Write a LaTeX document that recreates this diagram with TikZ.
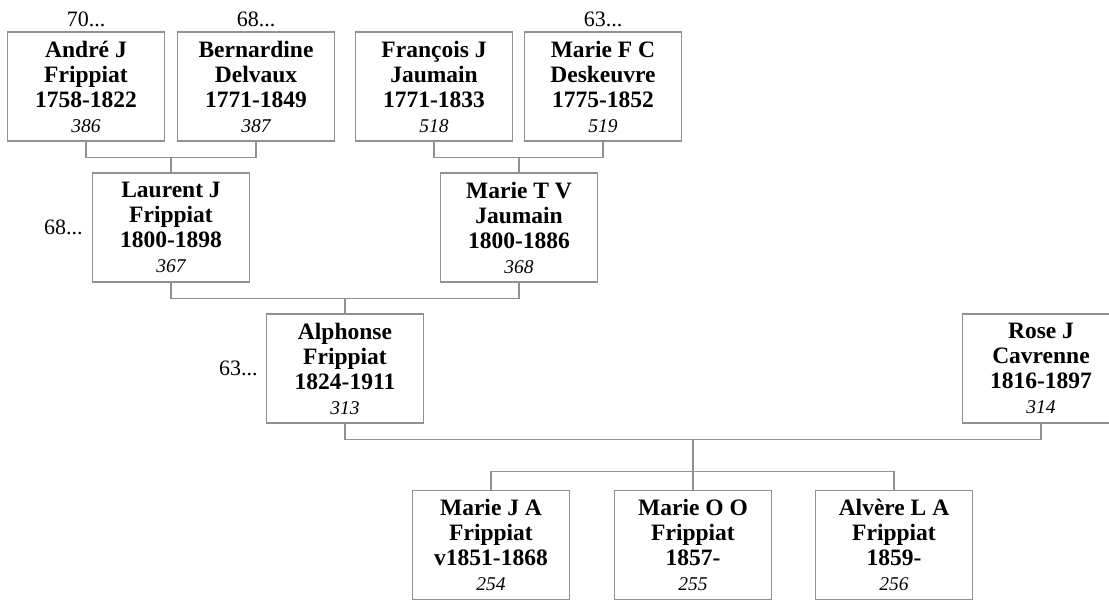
\documentclass[tikz,border=0pt]{standalone}
\usepackage{fontspec}
\setmainfont{Liberation Serif}
\usetikzlibrary{positioning,calc}
\definecolor{linegray}{RGB}{145,145,145}
\newcommand{\pers}[4]{\textbf{#1}\\\textbf{#2}\\\textbf{#3}\\{\fontsize{19.5}{25}\selectfont\itshape #4}}

\begin{document}
\begin{tikzpicture}[
  x=1pt,y=-1pt,
  person/.style={draw=linegray,line width=1.4pt,rectangle,align=center,inner sep=0pt,
    minimum width=157pt,minimum height=109pt,font=\fontsize{23.5}{25}\selectfont},
  note/.style={inner sep=0pt,font=\fontsize{22}{24}\selectfont},
  link/.style={draw=linegray,line width=1.4pt}
]
  \useasboundingbox (0,0) rectangle (1109,601);

  % great-grandparents
  \node[person] (andre) at (86,86.5) {\pers{André J}{Frippiat}{1758-1822}{386}};
  \node[person] (bernardine) at (256,86.5) {\pers{Bernardine}{Delvaux}{1771-1849}{387}};
  \node[person] (francois) at (434,86.5) {\pers{François J}{Jaumain}{1771-1833}{518}};
  \node[person] (mariefc) at (603,86.5) {\pers{Marie F C}{Deskeuvre}{1775-1852}{519}};

  \node[note,anchor=base] (n70) at ($(andre.north)+(0,-5)$) {70...};
  \node[note,anchor=base] (n68a) at ($(bernardine.north)+(0,-5)$) {68...};
  \node[note,anchor=base] (n63a) at ($(mariefc.north)+(0,-5)$) {63...};

  % grandparents
  \node[person] (laurent) at (171,227.5) {\pers{Laurent J}{Frippiat}{1800-1898}{367}};
  \node[person] (marietv) at (519,227.5) {\pers{Marie T V}{Jaumain}{1800-1886}{368}};
  \node[note,left=9pt of laurent] (n68b) {68...};

  % parents
  \node[person] (alphonse) at (345,368.5) {\pers{Alphonse}{Frippiat}{1824-1911}{313}};
  \node[person] (rose) at (1041,368.5) {\pers{Rose J}{Cavrenne}{1816-1897}{314}};
  \node[note,left=8pt of alphonse] (n63b) {63...};

  % children
  \node[person] (mariej) at (491,545) {\pers{Marie J A}{Frippiat}{v1851-1868}{254}};
  \node[person] (marieo) at (693,545) {\pers{Marie O O}{Frippiat}{1857-}{255}};
  \node[person] (alvere) at (894,545) {\pers{Alvère L A}{Frippiat}{1859-}{256}};

  % couple links
  \coordinate (c1) at ($(andre.south)!0.5!(bernardine.south)+(0,16)$);
  \draw[link] (andre.south) |- (c1) -| (bernardine.south);
  \draw[link] (c1) -- (laurent.north);

  \coordinate (c2) at ($(francois.south)!0.5!(mariefc.south)+(0,16)$);
  \draw[link] (francois.south) |- (c2) -| (mariefc.south);
  \draw[link] (c2) -- (c2 -| marietv.north) -- (marietv.north);

  \coordinate (c3) at ($(laurent.south)!0.5!(marietv.south)+(0,16)$);
  \draw[link] (laurent.south) |- (c3) -| (marietv.south);
  \draw[link] (c3) -- (alphonse.north);

  \coordinate (c4) at ($(alphonse.south)!0.5!(rose.south)+(0,16)$);
  \draw[link] (alphonse.south) |- (c4) -| (rose.south);
  \coordinate (kids) at ($(marieo.north)+(0,-18)$);
  \draw[link] (c4) -- (kids);
  \draw[link] (mariej.north) |- (kids) -| (alvere.north);
  \draw[link] (kids) -- (marieo.north);
\end{tikzpicture}
\end{document}
